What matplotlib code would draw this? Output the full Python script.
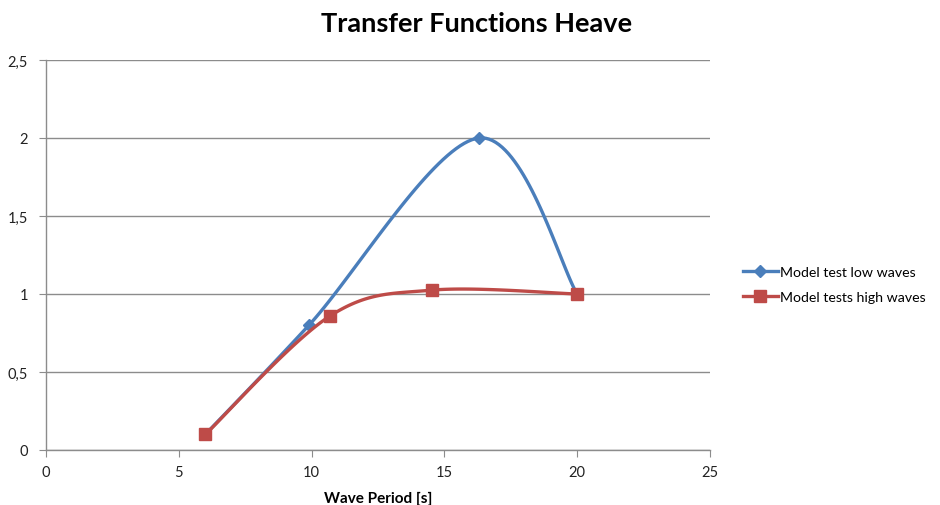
import numpy as np
import matplotlib
matplotlib.use("Agg")
import matplotlib.pyplot as plt

title = "Transfer Functions Heave"
xlabel = "Wave Period [s]"
low_label = "Model test low waves"
high_label = "Model tests high waves"
low_x = [6.0, 9.9, 16.3, 20.0]
low_y = [0.1, 0.8, 2.0, 1.0]
high_x = [6.0, 10.7, 14.55, 20.0]
high_y = [0.1, 0.86, 1.025, 1.0]
xticks = [0, 5, 10, 15, 20, 25]
yticks = [0, 0.5, 1, 1.5, 2, 2.5]
ytick_labels = ["0", "0,5", "1", "1,5", "2", "2,5"]

def smooth(xs, ys, n=40):
    # Excel-style smoothing: cubic Bezier with Catmull-Rom control points
    P = np.column_stack([xs, ys]).astype(float)
    out = [P[0]]
    t = np.linspace(0, 1, n)[1:, None]
    for i in range(len(P) - 1):
        p0 = P[i - 1] if i > 0 else P[i]
        p1, p2 = P[i], P[i + 1]
        p3 = P[i + 2] if i + 2 < len(P) else P[i + 1]
        c1 = p1 + (p2 - p0) / 6
        c2 = p2 - (p3 - p1) / 6
        seg = ((1 - t) ** 3) * p1 + 3 * ((1 - t) ** 2) * t * c1 + 3 * (1 - t) * t ** 2 * c2 + t ** 3 * p2
        out.extend(seg)
    out = np.array(out)
    return out[:, 0], out[:, 1]

plt.rcParams['font.family'] = ['Lato', 'DejaVu Sans']
fig = plt.figure(figsize=(9.4, 5.06), dpi=100)
ax = fig.add_axes([46/940, 55/506, 664/940, 390/506])

blue = "#4a7ebb"
red = "#be4b48"
sx, sy = smooth(low_x, low_y)
ax.plot(sx, sy, color=blue, lw=2.4, zorder=3, solid_capstyle='round')
ax.plot(low_x, low_y, linestyle='none', marker='D', ms=6, color=blue, zorder=4)
hx, hy = smooth(high_x, high_y)
ax.plot(hx, hy, color=red, lw=2.4, zorder=5, solid_capstyle='round')
ax.plot(high_x, high_y, linestyle='none', marker='s', ms=8.5, color=red, zorder=6)

from matplotlib.lines import Line2D
handles = [Line2D([], [], color=blue, lw=2.4, marker='D', ms=6),
           Line2D([], [], color=red, lw=2.4, marker='s', ms=8.5)]
ax.legend(handles, [low_label, high_label], loc='center left', bbox_to_anchor=(1.03, 0.425),
          frameon=False, fontsize=10.2, handlelength=2.5, handletextpad=0.15, labelspacing=0.9)

ax.set_xlim(0, 25)
ax.set_ylim(0, 2.5)
ax.set_xticks(xticks)
ax.set_yticks(yticks)
ax.set_yticklabels(ytick_labels)
ax.grid(axis='y', color='#8c8c8c', lw=1)
ax.set_axisbelow(True)
for s in ['top', 'right']:
    ax.spines[s].set_visible(False)
for s in ['left', 'bottom']:
    ax.spines[s].set_color('#8c8c8c')
    ax.spines[s].set_linewidth(1)
ax.tick_params(axis='both', direction='out', length=5, color='#8c8c8c', labelsize=10.5, labelcolor='#222222')
ax.tick_params(axis='y', pad=8)
ax.tick_params(axis='x', pad=6)
ax.set_xlabel(xlabel, fontsize=11, fontweight='bold', labelpad=8)
fig.text(477/940, 1 - 24/506, title, ha='center', va='center', fontsize=19.5, fontweight='bold')
fig.savefig("out.png", dpi=100)
